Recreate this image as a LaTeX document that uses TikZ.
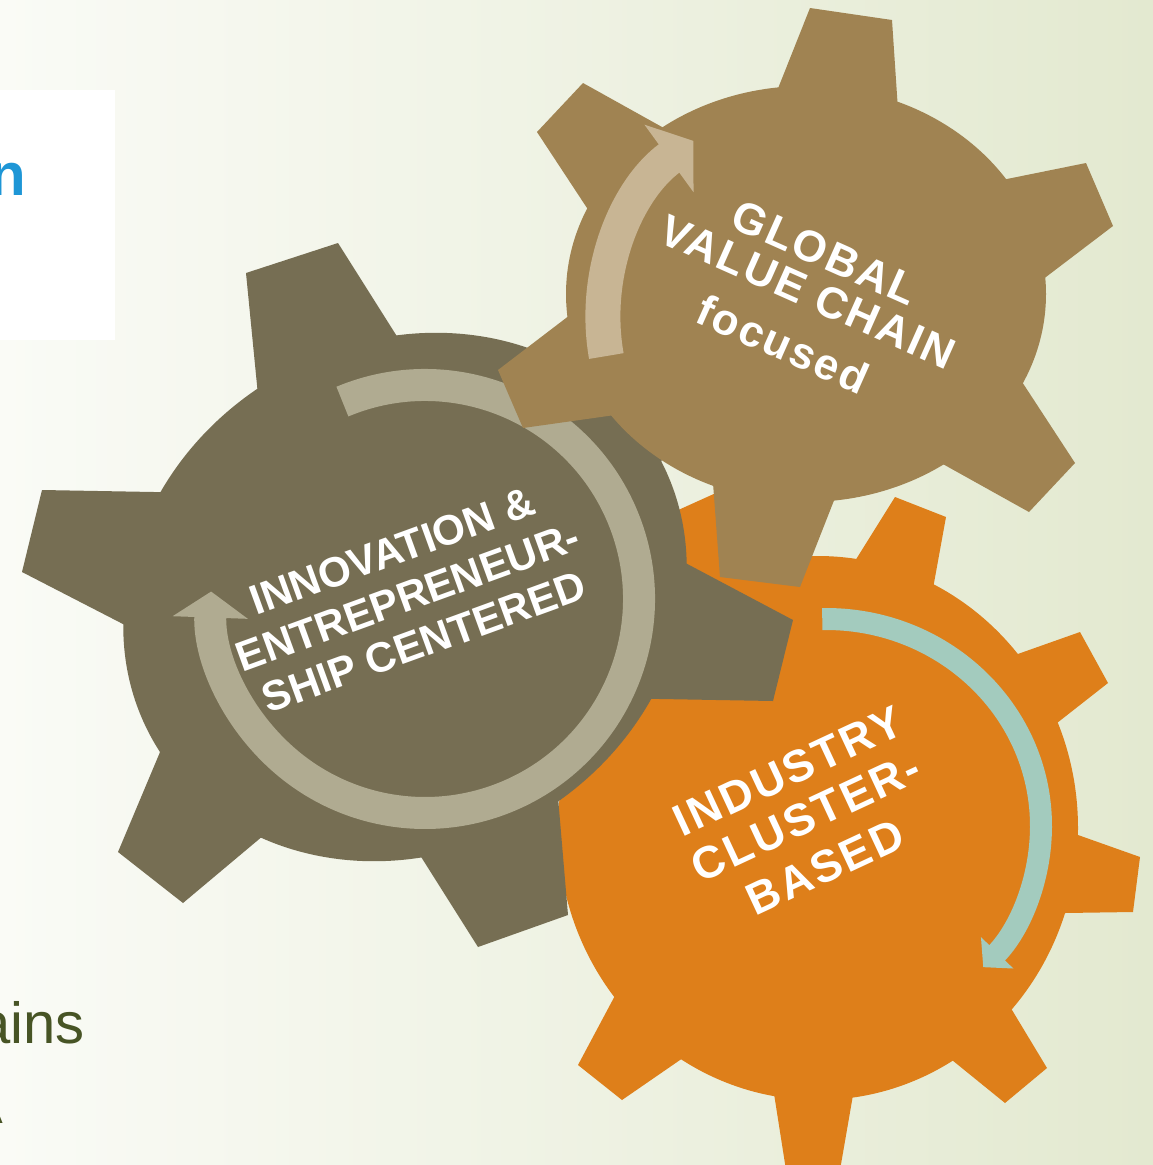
\documentclass[tikz,border=0pt]{standalone}
\usepackage{fontspec}
\setmainfont{Liberation Sans}
\usetikzlibrary{arrows.meta,calc}
\definecolor{bgL}{HTML}{FAFBF6}
\definecolor{bgR}{HTML}{E3E9D0}
\definecolor{gearDark}{HTML}{766E53}
\definecolor{gearBrown}{HTML}{A08352}
\definecolor{gearOrange}{HTML}{DE7F1A}
\definecolor{ringDark}{HTML}{B0AB91}
\definecolor{arrowBrown}{HTML}{C8B594}
\definecolor{arrowTeal}{HTML}{A3CBBE}
\definecolor{textBlue}{HTML}{1E96D6}
\definecolor{textOlive}{HTML}{475425}
% tooth: style, centre, base1, tip1, tip2, base2 (flanks extended into the body)
\newcommand{\gtooth}[6]{\fill[#1] (#2) -- ($(#4)!1.25!(#3)$) -- (#4) -- (#5) -- ($(#5)!1.25!(#6)$) -- cycle;}
\begin{document}
\begin{tikzpicture}[x=1pt,y=-1pt,
  orangefill/.style={fill=gearOrange},
  darkfill/.style={fill=gearDark},
  brownfill/.style={fill=gearBrown},
  ringarrow/.style={draw=ringDark,line width=32pt,-{Triangle[width=74pt,length=26pt]}},
  brownarrow/.style={draw=arrowBrown,line width=35pt,-{Triangle[width=82pt,length=30pt]}},
  tealarrow/.style={draw=arrowTeal,line width=22pt,-{Triangle[width=44pt,length=20pt]}},
  gearlabel/.style={text=white,inner sep=0pt},
  sidetext/.style={inner sep=0pt,font=\fontsize{58}{66}\selectfont}
]
\useasboundingbox (0,0) rectangle (1153,1165);
% background
\shade[left color=bgL,right color=bgR] (0,0) rectangle (1153,1165);
\fill[white] (0,90) rectangle (115,340);
\node[anchor=base east,inner sep=0pt,text=textBlue,font=\fontsize{60}{66}\selectfont\bfseries] (frag1) at (26,195) {n};
\node[sidetext,anchor=base east,text=textOlive] (frag2) at (85,1043) {ains};
\node[sidetext,anchor=base east,text=textOlive] (frag3) at (3,1123) {A};

% ---------------- orange gear ----------------
\coordinate (cO) at (818,828);
\fill[orangefill] (cO) ellipse[x radius=260,y radius=272];
\gtooth{orangefill}{cO}{860,553}{895,497}{946,517}{934,583}
\gtooth{orangefill}{cO}{1015,655}{1080,632}{1108,683}{1057,723}
\gtooth{orangefill}{cO}{1078,835}{1140,857}{1133,912}{1065,913}
\gtooth{orangefill}{cO}{1012,1010}{1047,1068}{1005,1103}{952,1060}
\gtooth{orangefill}{cO}{853,1095}{840,1170}{786,1170}{775,1100}
\gtooth{orangefill}{cO}{680,1060}{622,1100}{578,1065}{610,1005}
\gtooth{orangefill}{cO}{681,589}{665,516}{727,488}{756,562}
\coordinate (cT) at (826,826);
\draw[tealarrow] ($(cT)+(-91:215 and 207)$) arc[start angle=-91,end angle=43,x radius=215,y radius=207];
\node[gearlabel,rotate=25,font=\fontsize{45}{48}\selectfont\bfseries\addfontfeatures{LetterSpace=6}] (ind1) at (788,771) {INDUSTRY};
\node[gearlabel,rotate=25,font=\fontsize{45}{48}\selectfont\bfseries\addfontfeatures{LetterSpace=6}] (ind2) at (806,817) {CLUSTER-};
\node[gearlabel,rotate=25,font=\fontsize{45}{48}\selectfont\bfseries\addfontfeatures{LetterSpace=6}] (ind3) at (825,867) {BASED};

% ---------------- dark gear ----------------
\coordinate (cD) at (405,597);
\fill[darkfill,rotate around={30:(cD)}] (cD) ellipse[x radius=290,y radius=255];
\gtooth{darkfill}{cD}{257,385}{246,273}{338,243}{398,338}
\gtooth{darkfill}{cD}{540,355}{629,307}{699,365}{663,457}
\gtooth{darkfill}{cD}{693,567}{793,620}{773,701}{660,699}
\gtooth{darkfill}{cD}{558,797}{568,915}{478,947}{418,852}
\gtooth{darkfill}{cD}{270,830}{183,903}{118,852}{163,745}
\gtooth{darkfill}{cD}{121,623}{22,572}{42,490}{154,492}
\coordinate (cR) at (425,599);
\draw[ringarrow] ($(cR)+(-112.7:214)$) arc[start angle=-112.7,end angle=182,radius=214];
\node[gearlabel,rotate=20,font=\fontsize{42}{46}\selectfont\bfseries] (inn1) at (392,551) {INNOVATION \&};
\node[gearlabel,rotate=20,font=\fontsize{42}{46}\selectfont\bfseries] (inn2) at (408,597) {ENTREPRENEUR-};
\node[gearlabel,rotate=20,font=\fontsize{42}{46}\selectfont\bfseries] (inn3) at (424,642) {SHIP CENTERED};

% ---------------- brown gear ----------------
\coordinate (cB) at (806,294);
\fill[brownfill] (cB) ellipse[x radius=240,y radius=208];
\gtooth{brownfill}{cB}{587,208}{537,132}{583,83}{662,127}
\gtooth{brownfill}{cB}{777,91}{810,8}{892,20}{898,110}
\gtooth{brownfill}{cB}{997,181}{1086,163}{1113,226}{1042,280}
\gtooth{brownfill}{cB}{1026,388}{1075,463}{1029,512}{950,468}
\gtooth{brownfill}{cB}{833,503}{800,587}{720,577}{713,483}
\gtooth{brownfill}{cB}{570,315}{498,370}{523,428}{615,415}
\coordinate (cA) at (822,318);
\draw[brownarrow] ($(cA)+(-190:219)$) arc[start angle=-190,end angle=-126,radius=219];
\node[gearlabel,rotate=-24,font=\fontsize{44}{48}\selectfont\bfseries\addfontfeatures{LetterSpace=5}] (glo1) at (825,253) {GLOBAL};
\node[gearlabel,rotate=-24,font=\fontsize{44}{48}\selectfont\bfseries\addfontfeatures{LetterSpace=5}] (glo2) at (808,292) {VALUE CHAIN};
\node[gearlabel,rotate=-24,font=\fontsize{44}{48}\selectfont\bfseries\addfontfeatures{LetterSpace=5}] (glo3) at (783,344) {focused};
\end{tikzpicture}
\end{document}
